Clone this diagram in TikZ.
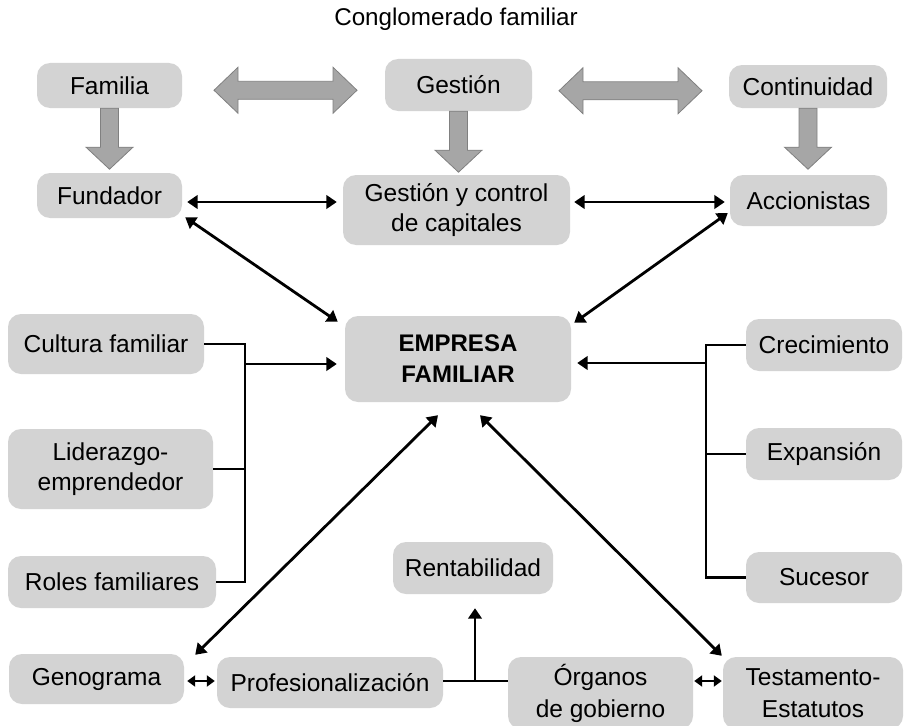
\documentclass[tikz,border=0pt]{standalone}
\usepackage{fontspec}
\setmainfont{Liberation Sans}
\usetikzlibrary{arrows.meta,calc}
\definecolor{boxgray}{RGB}{211,211,211}
\definecolor{blockfill}{RGB}{166,166,166}
\definecolor{blockline}{RGB}{128,128,128}

\begin{document}
\begin{tikzpicture}[x=1pt,y=-1pt,
  box/.style={rectangle, rounded corners=13pt, fill=boxgray, inner sep=0pt,
    align=center, font=\fontsize{24.5}{30}\selectfont},
  tip/.tip={Triangle[length=10.5pt,width=13.5pt]},
  smalltip/.tip={Triangle[length=8pt,width=11pt]},
  conn/.style={line width=2.8pt, tip-tip},
  oneway/.style={line width=2.8pt, -tip},
  bus/.style={line width=2.8pt},
  shortlink/.style={line width=2.6pt, smalltip-smalltip},
  blk/.style={fill=blockfill, draw=blockline, line width=0.8pt, line join=miter},
  downblk/.pic={\path[blk] (-9,0) -- (-9,39) -- (-23.5,39) -- (0,61)
      -- (23.5,39) -- (9,39) -- (9,0) -- cycle;},
  twinblk/.pic={\path[blk] (-71.5,0) -- (-47.5,-23) -- (-47.5,-9) -- (47.5,-9)
      -- (47.5,-23) -- (71.5,0) -- (47.5,23) -- (47.5,9) -- (-47.5,9)
      -- (-47.5,23) -- cycle;},
]
\useasboundingbox (0,0) rectangle (904,725);
\clip (0,0) rectangle (904,725);

% heading
\node[font=\fontsize{24.2}{28}\selectfont] (title) at (456,19) {Conglomerado familiar};

% top row
\node[box, minimum width=145pt, minimum height=45pt] (familia) at (109.5,85.5) {Familia};
\node[box, minimum width=147pt, minimum height=52pt] (gestion) at (458.5,85) {Gestión};
\node[box, minimum width=158pt, minimum height=43pt] (continuidad) at (808,86.5) {Continuidad};

% second row
\node[box, minimum width=145pt, minimum height=45pt] (fundador) at (109.5,195.5) {Fundador};
\node[box, minimum width=227pt, minimum height=70pt] (gestcap) at (456.5,210) {Gestión y control\\de capitales};
\node[box, minimum width=157pt, minimum height=51pt] (accionistas) at (808.5,200.5) {Accionistas};

% centre
\node[box, minimum width=226pt, minimum height=86pt,
  font=\fontsize{24}{31}\selectfont\bfseries] (empresa) at (458,359) {EMPRESA\\FAMILIAR};

% left column
\node[box, minimum width=196pt, minimum height=60pt] (cultura) at (106,344) {Cultura familiar};
\node[box, minimum width=205pt, minimum height=80pt] (liderazgo) at (110.5,469) {Liderazgo-\\emprendedor};
\node[box, minimum width=208pt, minimum height=52pt] (roles) at (112,582) {Roles familiares};

% right column
\node[box, minimum width=156pt, minimum height=52pt] (crecimiento) at (824,345) {Crecimiento};
\node[box, minimum width=156pt, minimum height=52pt] (expansion) at (824,454) {Expansión};
\node[box, minimum width=156pt, minimum height=51pt] (sucesor) at (824,577.5) {Sucesor};

% lower area
\node[box, minimum width=160pt, minimum height=52pt] (rentabilidad) at (473,568) {Rentabilidad};
\node[box, minimum width=175pt, minimum height=50pt] (genograma) at (96.5,679) {Genograma};
\node[box, minimum width=226pt, minimum height=51pt] (profes) at (330,682.5) {Profesionalización};
\node[box, minimum width=185pt, minimum height=72pt,
  font=\fontsize{24.5}{32}\selectfont] (organos) at (600.5,693) {Órganos\\de gobierno};
\node[box, minimum width=180pt, minimum height=72pt,
  font=\fontsize{24.5}{32}\selectfont] (testamento) at (813,693) {Testamento-\\Estatutos};

% block arrows
\pic at (familia.south) {downblk};
\pic at (gestion.south) {downblk};
\pic at (continuidad.south) {downblk};
\pic at ($($(familia.east)!0.5!(gestion.west)$)+(2,5)$) {twinblk};
\pic at ($($(gestion.east)!0.5!(continuidad.west)$)+(0,5)$) {twinblk};

% helper rows and buses
\coordinate (rowa) at (0,202);
\coordinate (rowb) at (0,681);
\coordinate (lbus) at (245,364);
\coordinate (rbus) at (706,363);
\coordinate (jn) at (475,681);

% second-row links
\draw[conn, shorten <=5pt, shorten >=6pt] (fundador.east |- rowa) -- (gestcap.west |- rowa);
\draw[conn, shorten <=4pt, shorten >=5pt] (gestcap.east |- rowa) -- (accionistas.west |- rowa);
\draw[conn] ($(fundador.south east)+(3,-1)$) -- ($(empresa.north west)+(-7,6)$);
\draw[conn] ($(accionistas.west)+(-2,12.5)$) -- ($(empresa.north east)+(3,7)$);

% left bus
\draw[bus] (cultura.east) -| (lbus |- roles.east) -- (roles.east);
\draw[bus] (liderazgo.east) -- (liderazgo.east -| lbus);
\draw[oneway, shorten >=8pt] (lbus) -- (lbus -| empresa.west);

% right bus
\draw[bus] (crecimiento.west) -| (rbus |- sucesor.west) -- (sucesor.west);
\draw[bus] (expansion.west) -- (expansion.west -| rbus);
\draw[oneway, shorten >=6pt] (rbus) -- (rbus -| empresa.east);

% diagonal links to the bottom row
\draw[conn] ($(empresa.south)+(-20,13)$) -- ($(genograma.north east)+(11,1)$);
\draw[conn] ($(empresa.south)+(22,13)$) -- ($(testamento.north west)+(-1,-1)$);

% bottom row links
\draw[shortlink, shorten <=3pt, shorten >=2pt] (genograma.east |- rowb) -- (profes.west |- rowb);
\draw[bus] (profes.east |- rowb) -- (organos.west |- rowb);
\draw[oneway, shorten >=14pt] (jn) -- (jn |- rentabilidad.south);
\draw[shortlink, shorten <=1pt, shorten >=1pt] (organos.east |- rowb) -- (testamento.west |- rowb);
\end{tikzpicture}
\end{document}
